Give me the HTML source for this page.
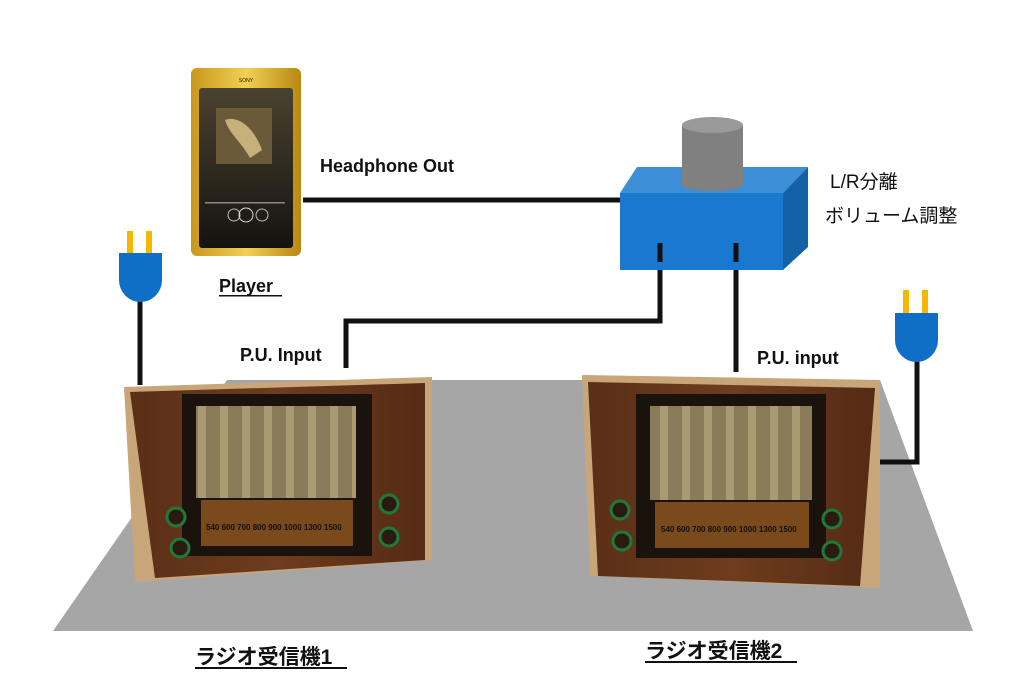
<!DOCTYPE html>
<html><head><meta charset="utf-8"><style>
html,body{margin:0;padding:0;background:#fff}
svg{display:block}
text{font-family:"Liberation Sans","Noto Sans CJK JP",sans-serif;fill:#111}
</style></head><body>
<svg width="1024" height="694" viewBox="0 0 1024 694" xmlns="http://www.w3.org/2000/svg">
<defs>
<linearGradient id="gold" x1="0" x2="1"><stop offset="0" stop-color="#c9971c"/><stop offset=".5" stop-color="#f2cf55"/><stop offset="1" stop-color="#b98812"/></linearGradient>
<linearGradient id="scr" x1="0" y1="0" x2="0" y2="1"><stop offset="0" stop-color="#4a4230"/><stop offset="1" stop-color="#151310"/></linearGradient>
<linearGradient id="wood" x1="0" x2="1"><stop offset="0" stop-color="#5a2f16"/><stop offset=".5" stop-color="#6e3c1e"/><stop offset="1" stop-color="#552b14"/></linearGradient>
<pattern id="grill" width="22" height="10" patternUnits="userSpaceOnUse"><rect width="22" height="10" fill="#8a7c58"/><rect x="0" width="8" height="10" fill="#a89a72"/></pattern>
</defs>
<polygon points="227,380 880,380 973,631 53,631" fill="#a6a6a6"/>
<g stroke="#111" stroke-width="5" fill="none">
<path d="M303,200 H620"/>
<path d="M660,243 V321 H346 V368"/>
<path d="M736,243 V372"/>
<path d="M140,300 V385"/>
<path d="M917,360 V462 H876"/>
</g>
<rect x="191" y="68" width="110" height="188" rx="6" fill="url(#gold)"/>
<rect x="199" y="88" width="94" height="160" rx="3" fill="url(#scr)"/>
<text x="246" y="82" font-size="5" text-anchor="middle" fill="#333">SONY</text>
<rect x="216" y="108" width="56" height="56" fill="#6b5a3a"/>
<path d="M225,120 C240,115 255,130 262,150 L250,158 C240,140 230,135 225,120Z" fill="#c7b07a"/>
<rect x="205" y="202" width="80" height="1.5" fill="#888"/>
<circle cx="234" cy="215" r="6" fill="none" stroke="#bbb"/><circle cx="246" cy="215" r="7" fill="none" stroke="#ddd"/><circle cx="262" cy="215" r="6" fill="none" stroke="#bbb"/>
<polygon points="620,193 637,167 808,167 783,193" fill="#3c8fd6"/>
<polygon points="783,193 808,167 808,247 783,270" fill="#1561a8"/>
<rect x="620" y="193" width="163" height="77" fill="#1b78d0"/>
<rect x="682" y="125" width="61" height="60" fill="#808080"/>
<ellipse cx="712.5" cy="185" rx="30.5" ry="6" fill="#808080"/>
<ellipse cx="712.5" cy="125" rx="30.5" ry="8" fill="#9a9a9a"/>
<g stroke="#111" stroke-width="5"><path d="M660,243 V262"/><path d="M736,243 V262"/></g>
<rect x="127" y="231" width="6" height="22" fill="#f5b800"/><rect x="146" y="231" width="6" height="22" fill="#f5b800"/>
<path d="M119,253 H162 V280 A21.5,22 0 0 1 119,280Z" fill="#0f6fc6"/>
<rect x="903" y="290" width="6" height="23" fill="#f5b800"/><rect x="922" y="290" width="6" height="23" fill="#f5b800"/>
<path d="M895,313 H938 V340 A21.5,22 0 0 1 895,340Z" fill="#0f6fc6"/>
<g>
<polygon points="124,387 432,377 432,560 135,582" fill="#c9a57a"/>
<polygon points="130,392 425,383 425,560 155,578" fill="url(#wood)"/>
<rect x="182" y="394" width="190" height="162" fill="#1a120c"/>
<rect x="196" y="406" width="160" height="92" fill="url(#grill)"/>
<rect x="201" y="500" width="152" height="46" fill="#7a4a1c"/>
<text x="206" y="530" font-size="8" fill="#f0d070" font-weight="bold">540 600 700 800 900 1000 1300 1500</text>
<g fill="#2a1a10" stroke="#1f7a3a" stroke-width="3">
<circle cx="176" cy="517" r="9"/><circle cx="180" cy="548" r="9"/><circle cx="389" cy="504" r="9"/><circle cx="389" cy="537" r="9"/></g>
</g>
<g>
<polygon points="582,375 880,380 880,588 590,576" fill="#c9a57a"/>
<polygon points="588,382 875,388 860,586 598,576" fill="url(#wood)"/>
<rect x="636" y="394" width="190" height="164" fill="#1a120c"/>
<rect x="650" y="406" width="162" height="94" fill="url(#grill)"/>
<rect x="655" y="502" width="154" height="46" fill="#7a4a1c"/>
<text x="661" y="532" font-size="8" fill="#f0d070" font-weight="bold">540 600 700 800 900 1000 1300 1500</text>
<g fill="#2a1a10" stroke="#1f7a3a" stroke-width="3">
<circle cx="620" cy="510" r="9"/><circle cx="622" cy="541" r="9"/><circle cx="832" cy="519" r="9"/><circle cx="832" cy="551" r="9"/></g>
</g>
<text x="320" y="172" font-size="18" font-weight="bold">Headphone Out</text>
<text x="219" y="292" font-size="18" font-weight="bold">Player</text>
<rect x="219" y="295" width="63" height="1.5" fill="#111"/>
<text x="240" y="361" font-size="18" font-weight="bold">P.U. Input</text>
<text x="757" y="364" font-size="18" font-weight="bold">P.U. input</text>
<text x="830" y="188" font-size="19">L/R分離</text>
<text x="825" y="222" font-size="19">ボリューム調整</text>
<text x="195" y="664" font-size="21" font-weight="bold">ラジオ受信機1</text>
<rect x="195" y="667" width="152" height="2" fill="#111"/>
<text x="645" y="658" font-size="21" font-weight="bold">ラジオ受信機2</text>
<rect x="645" y="661" width="152" height="2" fill="#111"/>
</svg>
</body></html>
